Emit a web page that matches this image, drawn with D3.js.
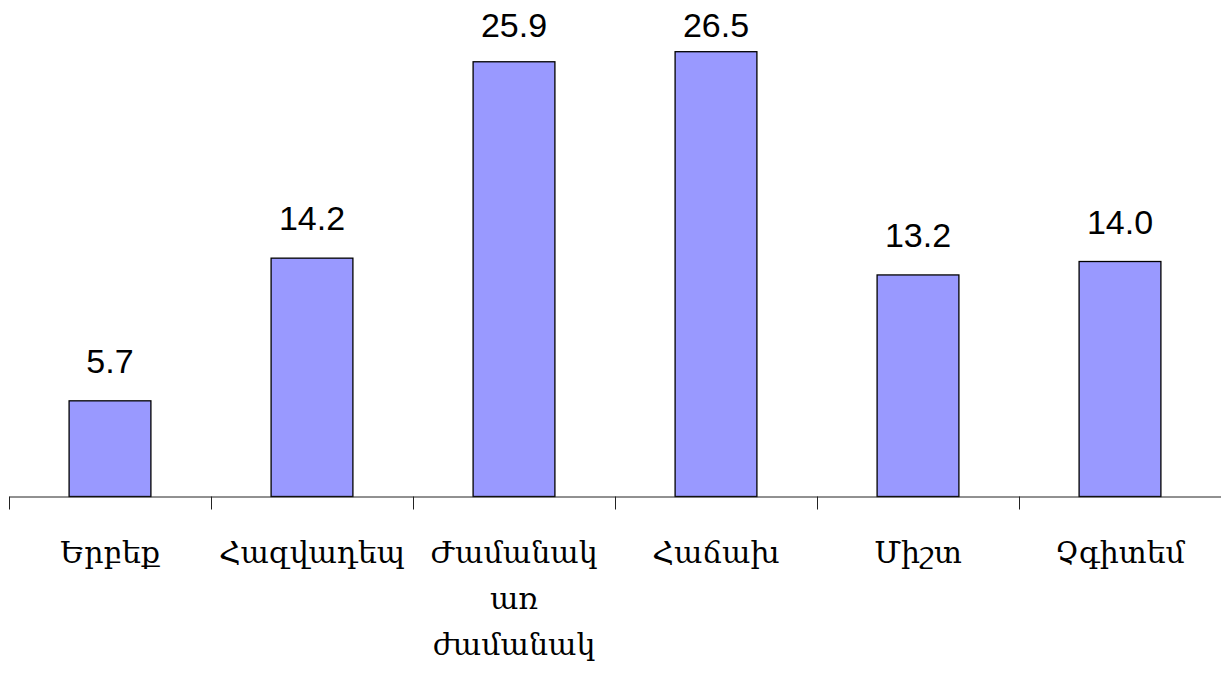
<!DOCTYPE html>
<html>
<head>
<meta charset="utf-8">
<script src="https://cdn.jsdelivr.net/npm/d3@7"></script>
<style>
  body { margin: 0; background: #fff; }
  svg { display: block; }
</style>
</head>
<body>
<div id="chart"></div>
<script>
// data
var categories = ["Երբեք", "Հազվադեպ", "Ժամանակ առ ժամանակ", "Հաճախ", "Միշտ", "Չգիտեմ"];
var labelLines = [["Երբեք"], ["Հազվադեպ"], ["Ժամանակ", "առ", "ժամանակ"], ["Հաճախ"], ["Միշտ"], ["Չգիտեմ"]];
var values = [5.7, 14.2, 25.9, 26.5, 13.2, 14.0];

var width = 1221, height = 675;
var axisY = 496.5;

var svg = d3.select("#chart").append("svg")
  .attr("width", width)
  .attr("height", height);

var xScale = d3.scaleBand().domain(categories).range([9, 1221]).padding(0);
var tickScale = d3.scaleLinear().domain([0, categories.length]).range([9, 1221]);
var yScale = d3.scaleLinear().domain([0, 26.5]).range([axisY, 51.7]);

var barW = xScale.bandwidth() * 0.405;

// bars
svg.selectAll("rect.bar")
  .data(values)
  .enter().append("rect")
  .attr("class", "bar")
  .attr("x", function(d, i) { return xScale(categories[i]) + (xScale.bandwidth() - barW) / 2; })
  .attr("y", function(d) { return yScale(d); })
  .attr("width", barW)
  .attr("height", function(d) { return axisY - yScale(d); })
  .attr("fill", "#9999ff")
  .attr("stroke", "#000")
  .attr("stroke-width", 1.3);

// value labels (kept inside the top of the plot)
svg.selectAll("text.val")
  .data(values)
  .enter().append("text")
  .attr("class", "val")
  .attr("x", function(d, i) { return xScale(categories[i]) + xScale.bandwidth() / 2; })
  .attr("y", function(d) { return Math.max(yScale(d) - 28, 37); })
  .attr("text-anchor", "middle")
  .style("font-family", "'Liberation Sans', Arial, sans-serif")
  .style("font-size", "34px")
  .text(function(d) { return d.toFixed(1); });

// axis
var xAxis = d3.axisBottom(tickScale)
  .tickValues(d3.range(categories.length + 1))
  .tickFormat("")
  .tickSizeInner(13)
  .tickSizeOuter(0);

var xAxisG = svg.append("g")
  .attr("class", "xAxis")
  .attr("transform", "translate(0," + axisY + ")")
  .call(xAxis);
xAxisG.selectAll("path, line").attr("stroke", "#222").attr("stroke-width", 1);

// category labels
var catG = svg.selectAll("text.cat")
  .data(labelLines)
  .enter().append("text")
  .attr("class", "cat")
  .attr("x", function(d, i) { return xScale(categories[i]) + xScale.bandwidth() / 2; })
  .attr("y", axisY + 66)
  .attr("text-anchor", "middle")
  .style("font-family", "'DejaVu Serif', serif")
  .style("font-size", "30px");

catG.selectAll("tspan")
  .data(function(d) { return d; })
  .enter().append("tspan")
  .attr("x", function() { return d3.select(this.parentNode).attr("x"); })
  .attr("dy", function(d, i) { return i === 0 ? 0 : 46; })
  .text(function(d) { return d; });
</script>
</body>
</html>
